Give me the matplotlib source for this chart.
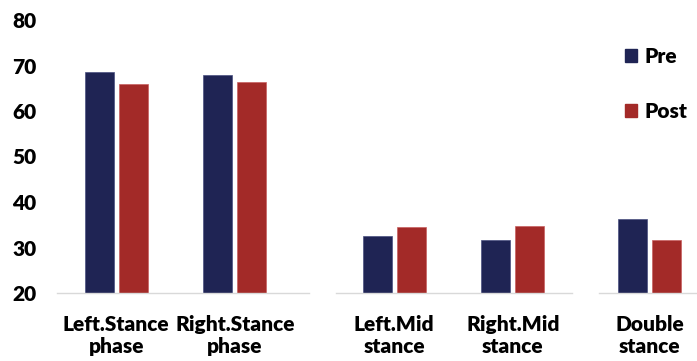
import matplotlib.pyplot as plt
from matplotlib.patches import Patch

# gait phase percentages, pre vs post
groups = [
    ["Left.Stance\nphase", "Right.Stance\nphase"],
    ["Left.Mid\nstance", "Right.Mid\nstance"],
    ["Double\nstance"],
]
pre = [[68.5, 67.9], [32.6, 31.6], [36.2]]
post = [[66.0, 66.3], [34.5, 34.7], [31.6]]
yticks = [20, 30, 40, 50, 60, 70, 80]

navy = "#1f2454"
red = "#a32a28"
W, H = 697, 361
unit = 118.7  # px per category
# panel pixel extents (left, right) and first category centre
panels = [(57, 309, 116.2), (336, 572, 394.2), (599, 697, 649.7)]

plt.rcParams["font.family"] = ["Lato", "DejaVu Sans"]
fig = plt.figure(figsize=(W / 100, H / 100), dpi=100)

y0, y1 = 293, 20
axes = []
for k, (left, right, c0) in enumerate(panels):
    ax = fig.add_axes([left / W, (H - y0) / H, (right - left) / W, (y0 - y1) / H])
    xs = list(range(len(groups[k])))
    w = 0.244
    off = 0.143
    ax.bar([x - off for x in xs], pre[k], w, bottom=0, color=navy,
           edgecolor="#4a5080", linewidth=0.5, label="Pre")
    ax.bar([x + off for x in xs], post[k], w, bottom=0, color=red,
           edgecolor="#c86060", linewidth=0.5, label="Post")
    ax.set_xlim((left - c0) / unit, (right - c0) / unit)
    ax.set_ylim(20, 80)
    ax.set_xticks(xs)
    ax.set_xticklabels(groups[k], fontsize=15, fontweight="heavy", linespacing=1.2)
    ax.tick_params(axis="x", length=0, pad=16)
    for s in ["top", "right", "left"]:
        ax.spines[s].set_visible(False)
    ax.spines["bottom"].set_color("#d9d9d9")
    ax.spines["bottom"].set_linewidth(1.0)
    if k == 0:
        ax.set_yticks(yticks)
        ax.set_yticklabels([str(t) for t in yticks], fontsize=15, fontweight="heavy")
        ax.tick_params(axis="y", length=0, pad=15)
    else:
        ax.set_yticks([])
    axes.append(ax)

handles = [Patch(facecolor=navy, edgecolor=navy), Patch(facecolor=red, edgecolor=red)]
fig.legend(handles, ["Pre", "Post"], loc="upper left", bbox_to_anchor=(606 / W, 1 - 28 / H),
           frameon=False, prop={"weight": "heavy", "size": 15},
           handlelength=0.6, handleheight=0.6, handletextpad=0.35, labelspacing=1.75)

fig.savefig("out.png", dpi=100)
